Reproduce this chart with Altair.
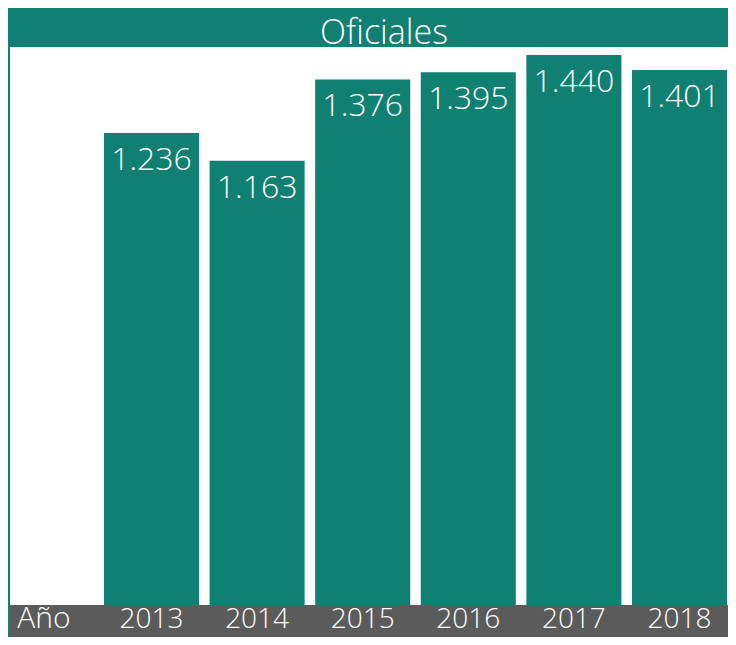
import altair as alt
import pandas as pd

years = ["2013", "2014", "2015", "2016", "2017", "2018"]
values = [1236, 1163, 1376, 1395, 1440, 1401]
labels = [f"{v:,}".replace(",", ".") for v in values]
title_text = "Oficiales"
axis_title = "Año"

TEAL = "#0f8072"
GRAY = "#5b5b5b"
FONT = "Open Sans"

W, H = 720, 629
BASE = 597

df = pd.DataFrame({"year": years, "value": values, "label": labels})
one = alt.Data(values=[{"k": 1}])

xs = alt.X("year:N", axis=None, sort=years,
           scale=alt.Scale(domain=years, range=[96, 719], paddingInner=0.1, paddingOuter=0))
ys = alt.Y("value:Q", axis=None, scale=alt.Scale(domain=[0, 1563], range=[BASE, 0]))

base = alt.Chart(df)

bars = base.mark_bar(color=TEAL).encode(x=xs, y=ys)

vals = base.mark_text(color="white", font=FONT, fontSize=32, fontWeight=300,
                      baseline="alphabetic", dy=37).encode(x=xs, y=ys, text="label:N")

years_txt = base.mark_text(color="white", font=FONT, fontSize=28, fontWeight=300,
                           baseline="alphabetic").encode(x=xs, y=alt.value(620), text="year:N")

title_band = alt.Chart(one).mark_rect(color=TEAL).encode(
    x=alt.value(0), x2=alt.value(W), y=alt.value(0), y2=alt.value(39))
title_txt = alt.Chart(one).mark_text(color="white", font=FONT, fontSize=34, fontWeight=300,
                                     baseline="alphabetic", text=title_text).encode(
    x=alt.value(376), y=alt.value(36))

gray_band = alt.Chart(one).mark_rect(color=GRAY).encode(
    x=alt.value(0), x2=alt.value(W), y=alt.value(BASE), y2=alt.value(H))
axis_txt = alt.Chart(one).mark_text(color="white", font=FONT, fontSize=30, fontWeight=300,
                                    baseline="alphabetic", text=axis_title).encode(
    x=alt.value(36), y=alt.value(620))

left_rule = alt.Chart(one).mark_rule(color=TEAL, strokeWidth=2).encode(
    x=alt.value(1), y=alt.value(0), y2=alt.value(H))

chart = alt.layer(
    bars, title_band, gray_band, left_rule, vals, years_txt, title_txt, axis_txt
).properties(
    width=W, height=H,
    autosize=alt.AutoSizeParams(type="none"),
    padding=0,
    background="white",
).configure_view(stroke=None)

chart.save("out.html", embed_options={"renderer": "svg", "actions": False})
